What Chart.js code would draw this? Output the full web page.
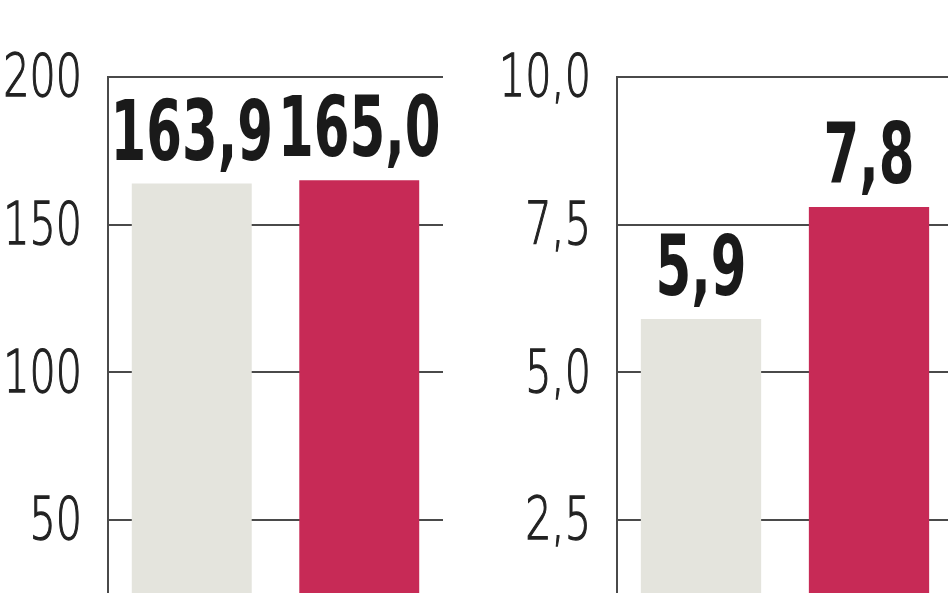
<!DOCTYPE html>
<html>
<head>
<meta charset="utf-8">
<script src="https://cdn.jsdelivr.net/npm/chart.js@4.4.1/dist/chart.umd.min.js"></script>
<style>
  html, body { margin: 0; padding: 0; background: #fff; }
  body { width: 948px; height: 593px; overflow: hidden; position: relative; }
  .box { position: absolute; top: 0; height: 700px; }
  #leftBox { left: 0; width: 474px; }
  #rightBox { left: 474px; width: 490px; }
</style>
</head>
<body>
<div class="box" id="leftBox"><canvas id="left"></canvas></div>
<div class="box" id="rightBox"><canvas id="right"></canvas></div>
<script>
// data
let categories = ["poprzednio", "obecnie"];
let leftValues = [163.9, 165.0];
let rightValues = [5.9, 7.8];
let leftTicks = [0, 50, 100, 150, 200];
let rightTicks = [0, 2.5, 5.0, 7.5, 10.0];

let barColors = ["#e4e4dd", "#c72a56"];
let lineColor = "#4a4a4a";

function plFormat(v, digits) {
  return v.toFixed(digits).replace(".", ",");
}

// narrow text: draw with a horizontal squeeze
function squeezedText(ctx, text, x, y, sx, align, stroke) {
  ctx.save();
  ctx.translate(x, y);
  ctx.scale(sx, 1);
  ctx.textAlign = align;
  ctx.fillText(text, 0, 0);
  if (stroke) ctx.strokeText(text, 0, 0);
  ctx.restore();
}

// value labels above the bars
let valueLabels = {
  id: "valueLabels",
  afterDatasetsDraw(chart) {
    let ctx = chart.ctx;
    let meta = chart.getDatasetMeta(0);
    let ds = chart.data.datasets[0];
    ctx.save();
    ctx.font = "bold 84px 'DejaVu Sans Condensed'";
    ctx.fillStyle = "#1a1a1a";
    ctx.textBaseline = "alphabetic";
    meta.data.forEach(function(bar, i) {
      squeezedText(ctx, plFormat(ds.data[i], 1), bar.x, bar.y - 24, 0.68, "center");
    });
    ctx.restore();
  }
};

// y tick labels, placed by the y scale
let tickLabels = {
  id: "tickLabels",
  afterDraw(chart, args, opts) {
    let ctx = chart.ctx;
    let scale = chart.scales.y;
    ctx.save();
    ctx.font = "200 59px 'DejaVu Sans'";
    ctx.fillStyle = "#222";
    ctx.strokeStyle = "#222";
    ctx.lineWidth = 1.3;
    ctx.textBaseline = "middle";
    scale.ticks.forEach(function(t) {
      if (t.value === 0) return;
      let y = scale.getPixelForValue(t.value) + 4;
      squeezedText(ctx, plFormat(t.value, opts.digits), chart.chartArea.left - 26, y, 0.7, "right", true);
    });
    ctx.restore();
  }
};

function makeChart(id, values, ticks, axisWidth, padRight, digits) {
  return new Chart(document.getElementById(id), {
    type: "bar",
    data: {
      labels: categories,
      datasets: [{
        data: values,
        backgroundColor: barColors,
        borderWidth: 0,
        barPercentage: 1,
        categoryPercentage: 0.716
      }]
    },
    options: {
      responsive: true,
      maintainAspectRatio: false,
      animation: false,
      layout: { padding: { top: 77, bottom: 32.5, left: 0, right: padRight } },
      plugins: {
        legend: { display: false },
        tooltip: { enabled: false },
        tickLabels: { digits: digits }
      },
      scales: {
        x: { display: false },
        y: {
          min: ticks[0],
          max: ticks[ticks.length - 1],
          afterBuildTicks(scale) {
            scale.ticks = ticks.map(function(v) { return { value: v }; });
          },
          afterFit(scale) { scale.width = axisWidth; },
          grid: { color: lineColor, lineWidth: 2, drawTicks: false },
          border: { display: true, color: lineColor, width: 2 },
          ticks: { display: false }
        }
      }
    },
    plugins: [valueLabels, tickLabels]
  });
}

makeChart("left", leftValues, leftTicks, 108, 31, 0);
makeChart("right", rightValues, rightTicks, 143, 11, 1);
</script>
</body>
</html>
